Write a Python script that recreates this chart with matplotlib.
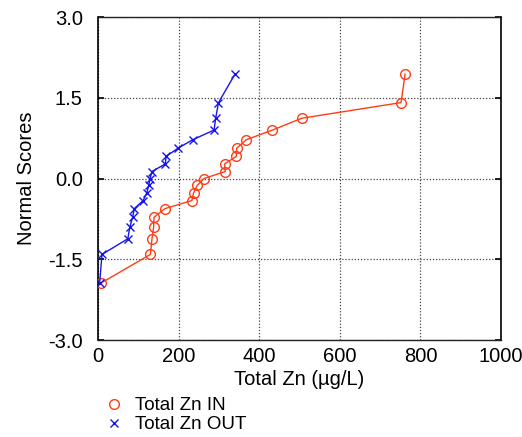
import matplotlib
matplotlib.use("Agg")
import matplotlib.pyplot as plt
from matplotlib.lines import Line2D

plt.rcParams['font.family'] = ['Liberation Sans', 'DejaVu Sans']

zn_in = [8, 130, 134, 138, 139, 166, 233, 237, 246, 263, 316, 314, 343, 344, 368, 433, 506, 752, 762]
scores_in = [-1.94, -1.41, -1.12, -0.90, -0.72, -0.56, -0.41, -0.27, -0.13, 0.0, 0.13, 0.27, 0.41, 0.56, 0.72, 0.90, 1.12, 1.41, 1.94]

zn_out = [4, 10, 74, 79, 86, 90, 112, 121, 126, 129, 134, 167, 169, 198, 235, 288, 292, 299, 340]
scores_out = [-1.94, -1.41, -1.12, -0.90, -0.72, -0.56, -0.41, -0.27, -0.13, 0.0, 0.13, 0.27, 0.41, 0.56, 0.72, 0.90, 1.12, 1.41, 1.94]

x_ticks = [0, 200, 400, 600, 800, 1000]
y_ticks = [-3.0, -1.5, 0.0, 1.5, 3.0]

red = '#FF3D14'
blue = '#1414F0'

fig = plt.figure(figsize=(5.22, 4.37), dpi=100)
ax = fig.add_axes([98/522, 1 - 340/437, (501-98)/522, (340-17)/437])

ax.plot(zn_in, scores_in, color=red, lw=1.0, marker='o', ms=7, mfc='none', mec=red, mew=1.0, zorder=3)
ax.plot(zn_out, scores_out, color=blue, lw=1.0, marker='x', ms=5.5, mec=blue, mew=1.0, zorder=3)

ax.set_xlim(0, 1000)
ax.set_ylim(-3, 3)
ax.set_xticks(x_ticks)
ax.set_xticklabels([str(v) for v in x_ticks])
ax.set_yticks(y_ticks)
ax.set_yticklabels([f"{v:.1f}" for v in y_ticks])
ax.grid(True, color='#444444', linestyle=(0, (1, 1.5)), lw=0.9)
ax.tick_params(axis='x', length=0, labelsize=14.5, pad=5)
ax.tick_params(axis='y', length=0, labelsize=14.5, pad=11)
ax.tick_params(axis='y', right=True, direction='in', length=4, width=1.2)

for s in ['left', 'right']:
    ax.spines[s].set_linewidth(1.2)
    ax.spines[s].set_color('black')
for s in ['top', 'bottom']:
    ax.spines[s].set_linestyle((0, (1, 1)))
    ax.spines[s].set_linewidth(1.0)
    ax.spines[s].set_color('#222222')

ax.set_xlabel('Total Zn (µg/L)', fontsize=14.5, labelpad=3)
ax.set_ylabel('Normal Scores', fontsize=14.5, labelpad=9)

handles = [Line2D([], [], ls='none', marker='o', ms=7, mfc='none', mec=red, mew=1.0),
           Line2D([], [], ls='none', marker='x', ms=5.5, mec=blue, mew=1.0)]
fig.legend(handles, ['Total Zn IN', 'Total Zn OUT'], loc='upper left',
           bbox_to_anchor=(103/522, 1 - 397/437), frameon=False, fontsize=13.5,
           handletextpad=0.5, labelspacing=0.1, handlelength=1.2, borderaxespad=0,
           borderpad=0)

fig.savefig('out.png', dpi=100)
